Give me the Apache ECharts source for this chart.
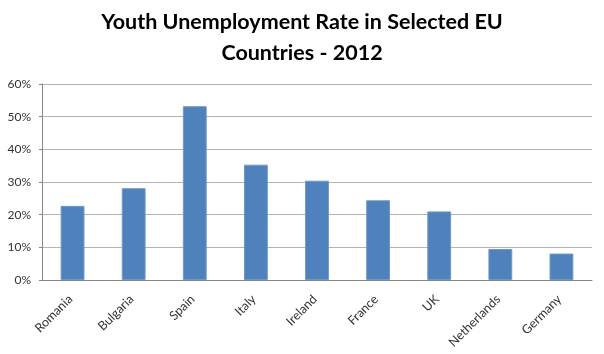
<!DOCTYPE html>
<html>
<head>
<meta charset="utf-8">
<script src="https://cdn.jsdelivr.net/npm/echarts@6/dist/echarts.min.js"></script>
<style>
    html, body { margin: 0; padding: 0; background: #fff; }
    #chart { width: 604px; height: 354px; }
</style>
</head>
<body>
<div id="chart"></div>
<script>
    // data (percent)
    const countries = ['Romania', 'Bulgaria', 'Spain', 'Italy', 'Ireland', 'France', 'UK', 'Netherlands', 'Germany']
    const rates = [22.7, 28.1, 53.2, 35.3, 30.4, 24.4, 21.0, 9.5, 8.1]
    const titleLines = ['Youth Unemployment Rate in Selected EU', 'Countries - 2012']

    const chart = echarts.init(document.getElementById('chart'))

    const option = {
        animation: false,
        title: {
            text: titleLines.join('\n'),
            left: 'center',
            top: 2,
            textStyle: {
                fontFamily: 'Lato',
                fontWeight: 'bold',
                fontSize: 21.5,
                lineHeight: 31,
                color: '#000'
            }
        },
        grid: {
            left: 42,
            right: 12,
            top: 84,
            bottom: 74
        },
        xAxis: {
            type: 'category',
            data: countries,
            axisLine: { lineStyle: { color: '#868686' } },
            axisTick: { length: 4, lineStyle: { color: '#868686' } },
            axisLabel: {
                rotate: 45,
                interval: 0,
                margin: 15,
                verticalAlign: 'middle',
                padding: [0, 3, 0, 0],
                fontFamily: 'Lato',
                fontSize: 12.5,
                color: '#333'
            }
        },
        yAxis: {
            type: 'value',
            min: 0,
            max: 60,
            interval: 10,
            axisLine: { show: true, lineStyle: { color: '#868686' } },
            axisTick: { show: true, length: 3, lineStyle: { color: '#868686' } },
            axisLabel: {
                formatter: '{value}%',
                margin: 11,
                fontFamily: 'Lato',
                fontSize: 12,
                color: '#333'
            },
            splitLine: { lineStyle: { color: '#b3b3b3' } }
        },
        series: [
            {
                type: 'bar',
                data: rates,
                barWidth: '39%',
                itemStyle: {
                    color: '#4F81BD',
                    borderColor: '#6f98c9',
                    borderWidth: 1
                }
            }
        ]
    }

    chart.setOption(option)
</script>
</body>
</html>
